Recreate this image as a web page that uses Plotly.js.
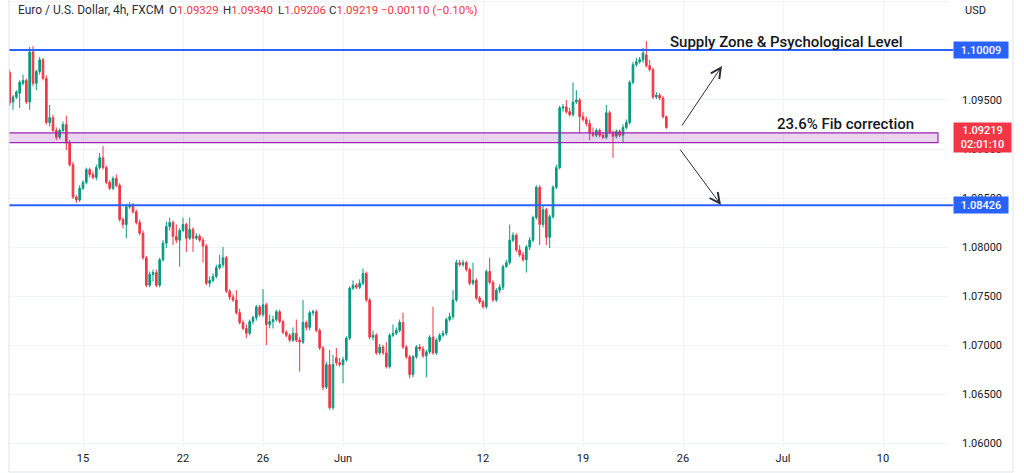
<!DOCTYPE html>
<html>
<head>
<meta charset="utf-8">
<script src="https://cdn.plot.ly/plotly-3.0.1.min.js"></script>
<style>
  html, body { margin: 0; padding: 0; background: #ffffff; }
  #chart { width: 1024px; height: 473px; }
</style>
</head>
<body>
<div id="chart"></div>
<script>
// ---- Data (EUR/USD 4h, FXCM) ----
const FIRST_BAR = -22; // bar index of the first candle (bar 0 = first 4h bar of 15 May)

const open = [
  1.0978,1.0948,1.0953,1.0957,1.0967,1.0970,1.0948,1.0999,1.0967,1.0979,1.0991,1.0972,1.0927,1.0932,1.0919,1.0912,1.0919,1.0925,1.0906,1.0884,1.0851,1.0848,
  1.0860,1.0866,1.0879,1.0874,1.0871,1.0881,1.0891,1.0881,1.0866,1.0860,1.0870,1.0863,1.0828,1.0823,1.0841,1.0843,1.0836,1.0825,1.0814,1.0789,1.0761,1.0772,1.0774,1.0761,1.0787,1.0804,1.0821,1.0825,1.0811,1.0807,
  1.0817,1.0823,1.0809,1.0818,1.0809,1.0811,1.0807,1.0801,1.0763,1.0766,1.0770,1.0779,1.0782,
  1.0789,1.0755,1.0749,1.0746,1.0733,1.0723,1.0717,1.0712,1.0724,1.0728,1.0739,1.0731,1.0741,1.0721,1.0724,1.0726,1.0734,1.0724,1.0713,1.0710,1.0705,1.0712,1.0705,1.0703,1.0723,1.0718,1.0733,1.0734,1.0715,1.0697,1.0657,1.0680,1.0636,1.0687,1.0682,
  1.0680,1.0685,1.0707,1.0758,1.0761,1.0759,1.0763,1.0773,1.0746,1.0708,1.0710,1.0692,1.0698,1.0692,1.0678,1.0710,1.0712,1.0715,1.0723,1.0698,1.0688,1.0670,1.0688,1.0698,1.0696,1.0689,1.0693,1.0708,1.0692,1.0705,1.0710,1.0712,1.0726,1.0729,1.0746,1.0784,1.0782,1.0784,1.0777,1.0763,1.0766,1.0748,
  1.0744,1.0739,1.0775,1.0764,1.0746,1.0756,1.0759,1.0780,1.0784,1.0807,1.0812,1.0797,1.0792,1.0787,1.0800,1.0807,1.0830,1.0861,1.0823,1.0838,1.0810,1.0831,1.0861,1.0881,1.0942,1.0943,1.0938,1.0935,1.0948,1.0950,
  1.0933,1.0930,1.0926,1.0916,1.0914,1.0919,1.0914,1.0912,1.0937,1.0917,1.0913,1.0918,1.0914,1.0922,1.0927,1.0968,1.0986,1.0989,1.0991,1.0996,1.0985,1.0981,1.0953,1.0955,1.0952,1.09329
];
const high = [
  1.0981,1.0955,1.0960,1.0970,1.0976,1.0972,1.1004,1.1005,1.0981,1.0994,1.0993,1.0975,1.0945,1.0935,1.0922,1.0921,1.0928,1.0934,1.0909,1.0887,1.0853,1.0863,
  1.0868,1.0881,1.0881,1.0877,1.0884,1.0896,1.0903,1.0883,1.0868,1.0872,1.0874,1.0865,1.0830,1.0844,1.0846,1.0845,1.0838,1.0828,1.0817,1.0791,1.0775,1.0777,1.0777,1.0789,1.0807,1.0826,1.0830,1.0827,1.0823,1.0819,
  1.0830,1.0825,1.0830,1.0820,1.0814,1.0813,1.0810,1.0803,1.0770,1.0773,1.0782,1.0792,1.0800,
  1.0791,1.0757,1.0752,1.0756,1.0737,1.0726,1.0721,1.0726,1.0730,1.0741,1.0741,1.0757,1.0743,1.0731,1.0730,1.0736,1.0736,1.0726,1.0715,1.0712,1.0718,1.0726,1.0708,1.0746,1.0725,1.0735,1.0736,1.0736,1.0717,1.0699,1.0683,1.0695,1.0690,1.0697,1.0687,
  1.0688,1.0709,1.0760,1.0766,1.0763,1.0767,1.0778,1.0775,1.0748,1.0715,1.0712,1.0701,1.0700,1.0703,1.0712,1.0721,1.0718,1.0726,1.0733,1.0700,1.0690,1.0690,1.0700,1.0701,1.0699,1.0695,1.0710,1.0739,1.0707,1.0712,1.0715,1.0728,1.0733,1.0756,1.0787,1.0787,1.0787,1.0786,1.0779,1.0784,1.0768,1.0750,
  1.0746,1.0777,1.0789,1.0766,1.0758,1.0762,1.0782,1.0787,1.0823,1.0815,1.0814,1.0802,1.0795,1.0802,1.0810,1.0832,1.0863,1.0863,1.0843,1.0840,1.0833,1.0863,1.0884,1.0944,1.0946,1.0950,1.0942,1.0968,1.0960,1.0952,
  1.0938,1.0933,1.0930,1.0922,1.0921,1.0921,1.0917,1.0945,1.0939,1.0919,1.0920,1.0920,1.0925,1.0930,1.0970,1.0989,1.0993,1.0994,1.1003,1.1010,1.0991,1.0983,1.0958,1.0957,1.0954,1.09340
];
const low = [
  1.0944,1.0940,1.0951,1.0942,1.0965,1.0946,1.0940,1.0964,1.0960,1.0976,1.0970,1.0925,1.0923,1.0917,1.0909,1.0910,1.0917,1.0899,1.0882,1.0849,1.0845,1.0846,
  1.0858,1.0864,1.0871,1.0869,1.0868,1.0879,1.0879,1.0864,1.0858,1.0858,1.0861,1.0826,1.0819,1.0809,1.0839,1.0834,1.0823,1.0812,1.0787,1.0759,1.0759,1.0765,1.0759,1.0759,1.0785,1.0799,1.0817,1.0802,1.0804,1.0780,
  1.0815,1.0795,1.0807,1.0795,1.0807,1.0805,1.0784,1.0761,1.0759,1.0764,1.0768,1.0777,1.0779,
  1.0753,1.0746,1.0744,1.0731,1.0721,1.0715,1.0707,1.0710,1.0721,1.0725,1.0729,1.0729,1.0700,1.0717,1.0717,1.0724,1.0722,1.0711,1.0708,1.0703,1.0703,1.0703,1.0673,1.0701,1.0715,1.0715,1.0730,1.0713,1.0695,1.0654,1.0655,1.0634,1.0634,1.0679,1.0678,
  1.0661,1.0683,1.0705,1.0756,1.0757,1.0757,1.0761,1.0744,1.0706,1.0705,1.0690,1.0690,1.0690,1.0676,1.0676,1.0708,1.0710,1.0713,1.0696,1.0686,1.0666,1.0667,1.0686,1.0694,1.0687,1.0667,1.0691,1.0690,1.0690,1.0703,1.0708,1.0710,1.0724,1.0726,1.0744,1.0780,1.0780,1.0775,1.0761,1.0761,1.0746,1.0742,
  1.0737,1.0737,1.0762,1.0744,1.0744,1.0753,1.0756,1.0779,1.0782,1.0805,1.0795,1.0790,1.0785,1.0774,1.0797,1.0805,1.0828,1.0802,1.0820,1.0802,1.0799,1.0829,1.0859,1.0879,1.0938,1.0936,1.0933,1.0933,1.0946,1.0916,
  1.0928,1.0923,1.0909,1.0912,1.0912,1.0912,1.0910,1.0910,1.0915,1.0891,1.0911,1.0912,1.0906,1.0920,1.0925,1.0966,1.0984,1.0987,1.0988,1.0983,1.0979,1.0951,1.0951,1.0950,1.0931,1.09206
];
const close = [
  1.0947,1.0953,1.0958,1.0968,1.0970,1.0948,1.0999,1.0967,1.0979,1.0991,1.0972,1.0927,1.0932,1.0919,1.0912,1.0919,1.0925,1.0906,1.0884,1.0851,1.0848,1.0860,
  1.0866,1.0879,1.0874,1.0871,1.0881,1.0891,1.0881,1.0866,1.0860,1.0870,1.0863,1.0828,1.0823,1.0841,1.0843,1.0836,1.0825,1.0814,1.0789,1.0761,1.0772,1.0774,1.0761,1.0787,1.0804,1.0821,1.0825,1.0811,1.0807,1.0817,
  1.0823,1.0809,1.0818,1.0809,1.0811,1.0807,1.0801,1.0763,1.0766,1.0770,1.0779,1.0782,1.0789,
  1.0755,1.0749,1.0746,1.0733,1.0723,1.0717,1.0712,1.0724,1.0728,1.0739,1.0731,1.0741,1.0721,1.0724,1.0726,1.0734,1.0724,1.0713,1.0710,1.0705,1.0712,1.0705,1.0703,1.0723,1.0718,1.0733,1.0734,1.0715,1.0697,1.0657,1.0680,1.0636,1.0680,1.0682,1.0680,
  1.0685,1.0707,1.0758,1.0761,1.0759,1.0763,1.0773,1.0746,1.0708,1.0710,1.0692,1.0698,1.0692,1.0678,1.0710,1.0712,1.0715,1.0723,1.0698,1.0688,1.0670,1.0688,1.0698,1.0696,1.0689,1.0693,1.0708,1.0692,1.0705,1.0710,1.0712,1.0726,1.0729,1.0746,1.0784,1.0782,1.0784,1.0777,1.0763,1.0766,1.0748,1.0744,
  1.0739,1.0775,1.0764,1.0746,1.0756,1.0759,1.0780,1.0784,1.0807,1.0812,1.0797,1.0792,1.0787,1.0800,1.0807,1.0830,1.0861,1.0823,1.0838,1.0810,1.0831,1.0861,1.0881,1.0942,1.0943,1.0938,1.0935,1.0948,1.0950,1.0933,
  1.0930,1.0926,1.0916,1.0914,1.0919,1.0914,1.0912,1.0937,1.0917,1.0913,1.0918,1.0914,1.0922,1.0927,1.0968,1.0986,1.0989,1.0991,1.0998,1.0985,1.0981,1.0953,1.0955,1.0952,1.0933,1.09219
];

// time-axis labels (bar index where each day starts)
const tickLabels = ['15','22','26','Jun','12','19','26','Jul','10'];
const tickBars   = [0, 30, 54, 78, 120, 150, 180, 210, 240];

// drawn levels
const supplyLevel  = 1.10009;
const supportLevel = 1.08426;
const fibZone      = [1.09065, 1.09165];
const lastPrice    = 1.09219;
const countdown    = '02:01:10';
const headerName   = 'Euro / U.S. Dollar, 4h, FXCM';
const ohlcKeys     = ['O', 'H', 'L', 'C'];
const ohlcValues   = ['1.09329', '1.09340', '1.09206', '1.09219'];
const changeText   = '\u22120.00110 (\u22120.10%)';

// ---- Chart ----
const bars = open.map((_, k) => k + FIRST_BAR);
const UP = '#089981', DOWN = '#f23645', BLUE = '#2962ff';
const FONT = 'Roboto, "Liberation Sans", sans-serif';
const TXT = '#131722';

// plot area in pixels: left 9, right 948 (width 939), top 0, bottom 447
const px = p => (p - 9) / 939;
const py = p => (447 - p) / 447;

const trace = {
  type: 'candlestick',
  x: bars, open: open, high: high, low: low, close: close,
  increasing: { line: { color: UP, width: 1 }, fillcolor: UP },
  decreasing: { line: { color: DOWN, width: 1 }, fillcolor: DOWN },
  whiskerwidth: 0,
  hoverinfo: 'skip',
  showlegend: false
};

const headerAnns = [
  { xref: 'paper', yref: 'paper', x: px(16), y: py(10), xanchor: 'left', yanchor: 'middle',
    text: headerName, showarrow: false, font: { family: FONT, size: 12, color: '#2a2e39' } }
];
const keyX = [167, 221, 276, 327];
ohlcKeys.forEach((k, i) => {
  headerAnns.push({ xref: 'paper', yref: 'paper', x: px(keyX[i]), y: py(10), xanchor: 'left', yanchor: 'middle',
    text: k + '<span style="color:#f23645">' + ohlcValues[i] + '</span>', showarrow: false,
    font: { family: FONT, size: 11.5, color: '#2a2e39' } });
});
headerAnns.push({ xref: 'paper', yref: 'paper', x: px(379), y: py(10), xanchor: 'left', yanchor: 'middle',
  text: changeText, showarrow: false, font: { family: FONT, size: 11.5, color: '#f23645' } });

const layout = {
  width: 1024, height: 473,
  margin: { l: 9, r: 76, t: 0, b: 26 },
  paper_bgcolor: '#ffffff', plot_bgcolor: '#ffffff',
  showlegend: false,
  boxgap: 0.3,
  dragmode: false,
  xaxis: {
    range: [-22.2, 259.5],
    tickmode: 'array', tickvals: tickBars, ticktext: tickLabels,
    showgrid: true, gridcolor: '#f0f3fa', gridwidth: 1,
    zeroline: false, showline: false, ticks: '',
    ticklabelstandoff: 3,
    tickfont: { family: FONT, size: 11, color: TXT },
    rangeslider: { visible: false },
    fixedrange: true
  },
  yaxis: {
    side: 'right',
    range: [1.0596, 1.1052],
    tick0: 1.06, dtick: 0.005, tickformat: '.5f',
    showgrid: true, gridcolor: '#f0f3fa', gridwidth: 1,
    zeroline: false, showline: false, ticks: '',
    ticklabelstandoff: 13,
    tickfont: { family: FONT, size: 11, color: TXT },
    fixedrange: true
  },
  shapes: [
    // fib zone
    { type: 'rect', xref: 'x', yref: 'y', x0: -40, x1: 256.5, y0: fibZone[0], y1: fibZone[1],
      fillcolor: 'rgba(156,39,176,0.2)', line: { color: '#9c27b0', width: 1.2 }, layer: 'above' },
    // horizontal levels (extend into price scale up to the label)
    { type: 'line', xref: 'paper', yref: 'y', x0: 0, x1: px(953), y0: supplyLevel, y1: supplyLevel,
      line: { color: BLUE, width: 2 } },
    { type: 'line', xref: 'paper', yref: 'y', x0: 0, x1: px(953), y0: supportLevel, y1: supportLevel,
      line: { color: BLUE, width: 2 } },
    // widget frame
    { type: 'line', xref: 'paper', yref: 'paper', x0: 0, x1: 0, y0: py(472), y1: 1,
      line: { color: '#e0e3eb', width: 1 } },
    { type: 'line', xref: 'paper', yref: 'paper', x0: px(1013), x1: px(1013), y0: py(472), y1: 1,
      line: { color: '#e0e3eb', width: 1 } },
    { type: 'line', xref: 'paper', yref: 'paper', x0: 0, x1: px(1013), y0: py(472), y1: py(472),
      line: { color: '#e0e3eb', width: 1 } }
  ],
  annotations: headerAnns.concat([
    { xref: 'paper', yref: 'paper', x: px(963), y: py(10), xanchor: 'left', yanchor: 'middle',
      text: 'USD', showarrow: false, font: { family: FONT, size: 11, color: TXT } },
    // price labels
    { xref: 'paper', yref: 'y', x: px(953), y: supplyLevel, xanchor: 'left', yanchor: 'middle',
      text: supplyLevel.toFixed(5), showarrow: false, bgcolor: BLUE, borderpad: 1.5,
      width: 51, height: 13, align: 'center', font: { family: FONT, size: 11, color: '#ffffff', weight: 500 } },
    { xref: 'paper', yref: 'y', x: px(953), y: supportLevel, xanchor: 'left', yanchor: 'middle',
      text: supportLevel.toFixed(5), showarrow: false, bgcolor: BLUE, borderpad: 1.5,
      width: 51, height: 13, align: 'center', font: { family: FONT, size: 11, color: '#ffffff', weight: 500 } },
    { xref: 'paper', yref: 'y', x: px(953), y: lastPrice, xanchor: 'left', yanchor: 'top', yshift: 6,
      text: lastPrice.toFixed(5) + '<br>' + countdown, showarrow: false, bgcolor: DOWN, borderpad: 1.5,
      width: 54, height: 26, align: 'center', font: { family: FONT, size: 11, color: '#ffffff', weight: 500 } },
    // text notes
    { xref: 'x', yref: 'y', x: 210.9, y: 1.10092, xanchor: 'center', yanchor: 'middle',
      text: 'Supply Zone & Psychological Level', showarrow: false,
      font: { family: FONT, size: 15, color: TXT, weight: 500 } },
    { xref: 'x', yref: 'y', x: 228.6, y: 1.0925, xanchor: 'center', yanchor: 'middle',
      text: '23.6% Fib correction', showarrow: false,
      font: { family: FONT, size: 15, color: TXT, weight: 500 } },
    // arrows
    { xref: 'x', yref: 'y', x: 191.7, y: 1.09847, axref: 'x', ayref: 'y', ax: 179.4, ay: 1.09225,
      text: '', showarrow: true, arrowhead: 5, arrowsize: 2, arrowwidth: 1, arrowcolor: '#2a2e39' },
    { xref: 'x', yref: 'y', x: 191.4, y: 1.08429, axref: 'x', ayref: 'y', ax: 178.8, ay: 1.09010,
      text: '', showarrow: true, arrowhead: 5, arrowsize: 2, arrowwidth: 1, arrowcolor: '#2a2e39' }
  ])
};

Plotly.newPlot('chart', [trace], layout, { staticPlot: true, displayModeBar: false });
</script>
</body>
</html>
